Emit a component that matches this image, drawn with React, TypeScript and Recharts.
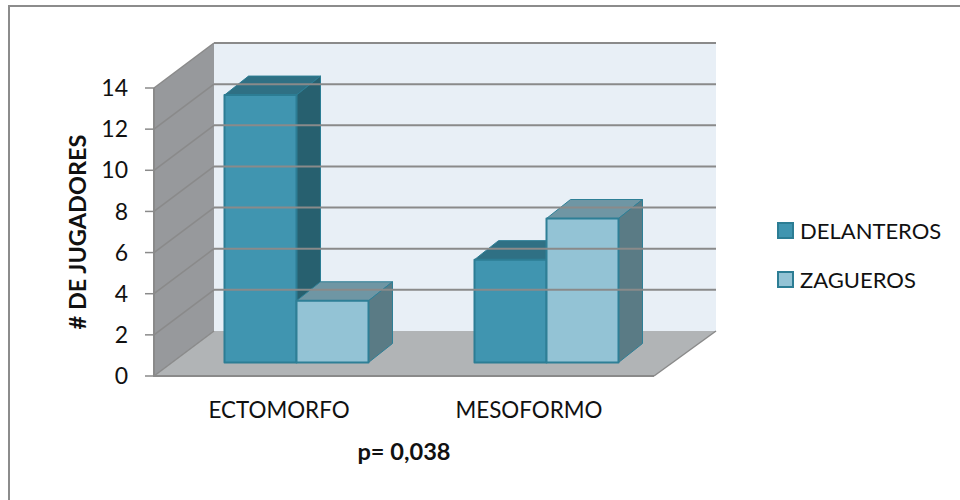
import React from 'react';
import { BarChart, Bar, XAxis, YAxis, ReferenceLine, Customized, Legend } from 'recharts';

const categories = ['ECTOMORFO', 'MESOFORMO'];
const delanteros = [13, 5];
const zagueros = [3, 7];
const yTicks = [0, 2, 4, 6, 8, 10, 12, 14];
const rows = categories.map((name, i) => ({ name, DELANTEROS: delanteros[i], ZAGUEROS: zagueros[i] }));

const FONT = 'Lato, sans-serif';
const TEXT = '#111';
const GRID = '#8a8a8a';

// Frame of the 3D box: front plane of the plot and the depth of the walls.
const LEFT = 154;
const RIGHT = 654;
const TOP = 88;
const BOTTOM = 376;
const WALL_DX = 60;
const WALL_END_DX = 62;
const WALL_DY = -45;
// Bars stand in the middle of the floor and have a depth of their own.
const BAR_DX = 17.5;
const BAR_DY = -13.5;
const DEPTH_X = 24;
const DEPTH_Y = -19;

const pts = (p: number[][]) => p.map((q) => q.join(',')).join(' ');

function Walls() {
  return (
    <g>
      <polygon
        points={pts([[LEFT + WALL_DX, TOP + WALL_DY], [RIGHT + WALL_END_DX, TOP + WALL_DY], [RIGHT + WALL_END_DX, BOTTOM + WALL_DY], [LEFT + WALL_DX, BOTTOM + WALL_DY]])}
        fill="#e8eff6"
      />
      <polygon
        points={pts([[LEFT, TOP], [LEFT + WALL_DX, TOP + WALL_DY], [LEFT + WALL_DX, BOTTOM + WALL_DY], [LEFT, BOTTOM]])}
        fill="#97999c"
      />
      <polygon
        points={pts([[LEFT, BOTTOM], [LEFT + WALL_DX, BOTTOM + WALL_DY], [RIGHT + WALL_END_DX, BOTTOM + WALL_DY], [RIGHT, BOTTOM]])}
        fill="#b1b4b6"
      />
      <line x1={LEFT - 1} y1={BOTTOM} x2={RIGHT} y2={BOTTOM} stroke={GRID} strokeWidth={2} />
      <line x1={RIGHT} y1={BOTTOM} x2={RIGHT + WALL_END_DX} y2={BOTTOM + WALL_DY} stroke={GRID} strokeWidth={1.5} />
    </g>
  );
}

// One grid value: a slanted stroke over the side wall, then a level one along the back wall.
function GridLine(props: any) {
  const y = props.y1 ?? props.y ?? BOTTOM;
  const isFloor = Math.abs(y - BOTTOM) < 0.5;
  return (
    <g>
      <line x1={LEFT} y1={y} x2={LEFT + WALL_DX} y2={y + WALL_DY} stroke={GRID} strokeWidth={1.5} />
      {!isFloor && (
        <line x1={LEFT + WALL_DX} y1={y + WALL_DY} x2={RIGHT + WALL_END_DX} y2={y + WALL_DY} stroke={GRID} strokeWidth={2} />
      )}
    </g>
  );
}

function box3d(colors: { front: string; top: string; side: string; edge: string }) {
  return function Box(props: any) {
    const { x, y, width, height } = props;
    const l = x + BAR_DX;
    const r = l + width;
    const t = y + BAR_DY;
    const b = t + height;
    return (
      <g stroke={colors.edge} strokeLinejoin="round">
        <polygon points={pts([[l, t], [r, t], [r + DEPTH_X, t + DEPTH_Y], [l + DEPTH_X, t + DEPTH_Y]])} fill={colors.top} strokeWidth={1} />
        <polygon points={pts([[r, t], [r + DEPTH_X, t + DEPTH_Y], [r + DEPTH_X, b + DEPTH_Y], [r, b]])} fill={colors.side} strokeWidth={1} />
        <rect x={l} y={t} width={width} height={height} fill={colors.front} strokeWidth={2} />
      </g>
    );
  };
}

const DARK = { front: '#4095b0', top: '#2f7084', side: '#27606f', edge: '#2c7d94' };
const LIGHT = { front: '#93c3d5', top: '#6f96a4', side: '#5a7b85', edge: '#2e7f96' };

function LegendBlock({ payload }: any) {
  return (
    <div>
      {(payload ?? []).map((entry: any, i: number) => (
        <div key={entry.value} style={{ display: 'flex', alignItems: 'center', height: 49, fontFamily: FONT, fontSize: 22, color: TEXT }}>
          <span
            style={{
              width: 13,
              height: 13,
              marginRight: 6,
              background: i === 0 ? DARK.front : LIGHT.front,
              border: `2px solid ${DARK.edge}`,
              display: 'inline-block',
              flex: 'none',
            }}
          />
          {entry.value}
        </div>
      ))}
    </div>
  );
}

export default function App() {
  return (
    <div style={{ position: 'absolute', left: 0, top: 0, width: 960, height: 500, background: '#fff', overflow: 'hidden' }}>
      <div style={{ position: 'absolute', left: 8, top: 5, width: 952, height: 2, background: '#8c8c8c' }} />
      <div style={{ position: 'absolute', left: 8, top: 5, width: 2, height: 495, background: '#8c8c8c' }} />
      <BarChart
        width={960}
        height={500}
        data={rows}
        barSize={72}
        barGap={0}
        barCategoryGap={0}
        margin={{ top: TOP, bottom: 500 - BOTTOM - 40, left: LEFT - 60, right: 960 - RIGHT }}
      >
        <Customized component={Walls} />
        {yTicks.map((v) => (
          <ReferenceLine key={v} y={v} shape={GridLine} />
        ))}
        <XAxis
          dataKey="name"
          height={40}
          axisLine={false}
          tickLine={false}
          tickMargin={20}
          tick={{ fontFamily: FONT, fontSize: 22.4, fill: TEXT }}
        />
        <YAxis
          width={60}
          domain={[0, 14]}
          ticks={yTicks}
          interval={0}
          tickSize={9}
          tickMargin={17}
          axisLine={{ stroke: GRID, strokeWidth: 2 }}
          tickLine={{ stroke: GRID, strokeWidth: 1.5 }}
          tick={{ fontFamily: FONT, fontSize: 23, fill: TEXT }}
          label={{
            value: '# DE JUGADORES',
            angle: -90,
            position: 'insideLeft',
            offset: -16,
            style: { fontFamily: FONT, fontSize: 23.5, fontWeight: 700, fill: TEXT, textAnchor: 'middle' },
          }}
        />
        <Bar dataKey="DELANTEROS" fill={DARK.front} isAnimationActive={false} shape={box3d(DARK)} />
        <Bar dataKey="ZAGUEROS" fill={LIGHT.front} isAnimationActive={false} shape={box3d(LIGHT)} />
        <Legend
          content={LegendBlock}
          layout="horizontal"
          verticalAlign="middle"
          wrapperStyle={{ position: 'absolute', left: 777, top: 206, bottom: 'auto', right: 'auto', width: 183, height: 98 }}
        />
        <text x={404} y={460} textAnchor="middle" fontFamily={FONT} fontSize={23.6} fontWeight={700} fill={TEXT}>
          p= 0,038
        </text>
      </BarChart>
    </div>
  );
}
